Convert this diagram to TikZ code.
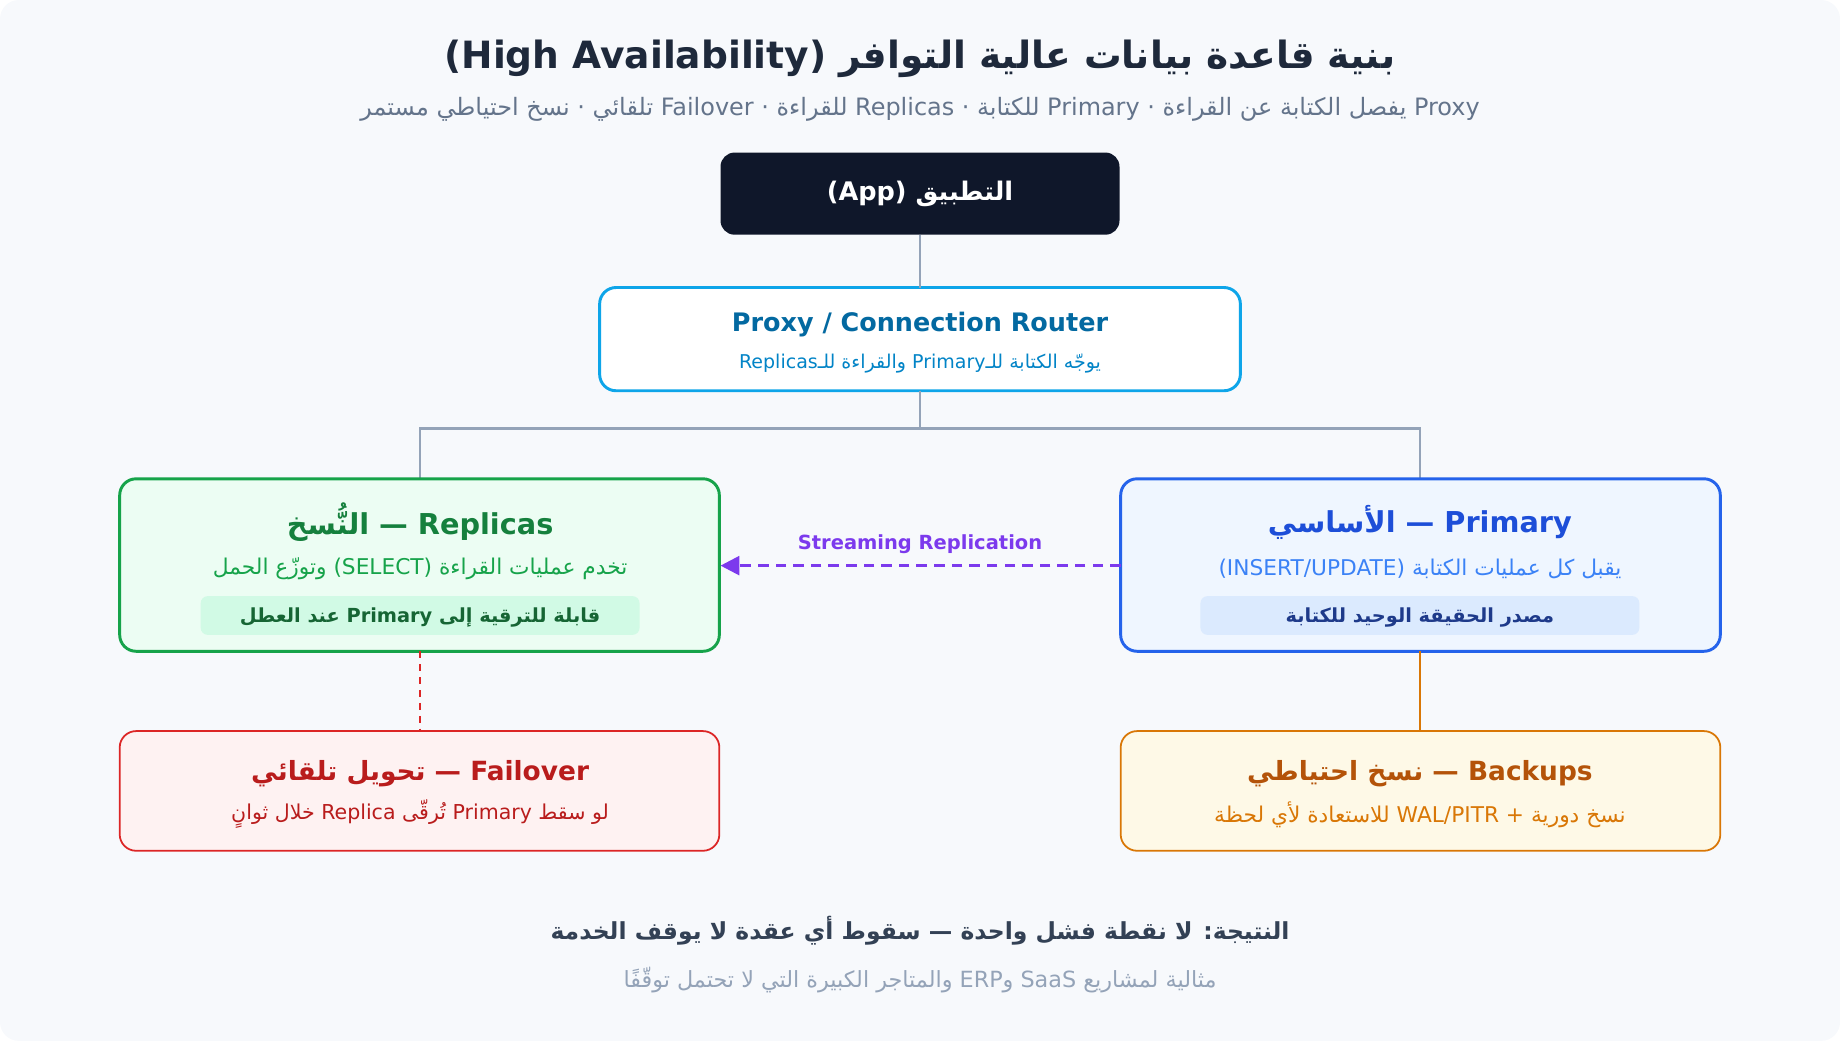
\documentclass[tikz,border=0pt]{standalone}
\usepackage{fontspec}
\setmainfont{DejaVu Sans}
\newfontfamily\arfont[Script=Arabic]{DejaVu Sans}
\TeXXeTstate=1
\newcommand\ar[1]{{\arfont\beginR #1\endR}}
\usetikzlibrary{arrows.meta}
\definecolor{bg}{HTML}{F7F9FC}
\definecolor{ink}{HTML}{1E293B}
\definecolor{sub}{HTML}{64748B}
\definecolor{tree}{HTML}{94A3B8}
\definecolor{appc}{HTML}{0F172A}
\definecolor{pxb}{HTML}{0EA5E9}
\definecolor{pxt}{HTML}{0369A1}
\definecolor{pxs}{HTML}{0284C7}
\definecolor{rpb}{HTML}{16A34A}
\definecolor{rpf}{HTML}{ECFDF3}
\definecolor{rpt}{HTML}{15803D}
\definecolor{rpg}{HTML}{D1FAE5}
\definecolor{rpk}{HTML}{166534}
\definecolor{prb}{HTML}{2563EB}
\definecolor{prf}{HTML}{EFF6FF}
\definecolor{prt}{HTML}{1D4ED8}
\definecolor{prs}{HTML}{3B82F6}
\definecolor{prg}{HTML}{DBEAFE}
\definecolor{prk}{HTML}{1E3A8A}
\definecolor{pur}{HTML}{7C3AED}
\definecolor{fob}{HTML}{DC2626}
\definecolor{fof}{HTML}{FEF2F2}
\definecolor{fot}{HTML}{B91C1C}
\definecolor{bkb}{HTML}{D97706}
\definecolor{bkf}{HTML}{FEF9E7}
\definecolor{bkt}{HTML}{B45309}
\definecolor{res}{HTML}{334155}
\begin{document}
\begin{tikzpicture}[x=1pt,y=-1pt,
  box/.style={draw,line width=2.5pt,rounded corners=14pt},
  ttl/.style={font=\bfseries\fontsize{24.5}{28}\selectfont},
  ttl2/.style={font=\bfseries\fontsize{22.5}{26}\selectfont},
  st/.style={font=\fontsize{18.5}{22}\selectfont},
  badge/.style={inner sep=0pt,font=\bfseries\fontsize{16.5}{19}\selectfont}]
\useasboundingbox (0,0) rectangle (1568,887);
\fill[bg,rounded corners=16pt] (0,0) rectangle (1568,887);
\node[ink,font=\bfseries\fontsize{32}{36}\selectfont] (title) at (784,50) {(High Availability) \ar{بنية قاعدة بيانات عالية التوافر}};
\node[sub,font=\fontsize{20.4}{24}\selectfont] (subt) at (784,93) {\ar{نسخ احتياطي مستمر} · \ar{تلقائي} Failover · \ar{للقراءة} Replicas · \ar{للكتابة} Primary · \ar{يفصل الكتابة عن القراءة} Proxy};
% app
\node[fill=appc,rounded corners=12pt,minimum width=340pt,minimum height=70pt,text=white,font=\bfseries\fontsize{21.8}{26}\selectfont] (app) at (784,165) {(App) \ar{التطبيق}};
% proxy
\draw[box,draw=pxb,fill=white] (511,245) rectangle (1057,333);
\node[font=\bfseries\fontsize{21.7}{25}\selectfont,text=pxt] (pt) at (784,277) {Proxy / Connection Router};
\node[font=\fontsize{16.2}{19}\selectfont,text=pxs] (ps) at (784,310) {Replicas\ar{والقراءة للـ} Primary\ar{يوجّه الكتابة للـ}};
\draw[tree,line width=2pt] (app.south) -- (784,245);
\draw[tree,line width=2pt] (784,333) -- (784,365) coordinate (j) -| (358,408);
\draw[tree,line width=2pt] (j) -| (1210,408);
% replicas
\draw[box,draw=rpb,fill=rpf] (102,408) rectangle (613,555);
\node[ttl,text=rpt] (rt) at (358,445) {\ar{النُّسخ} — Replicas};
\node[st,text=rpb] (rs) at (358,485) {\ar{وتوزّع الحمل} (SELECT) \ar{تخدم عمليات القراءة}};
\fill[rpg,rounded corners=6pt] (171,508) rectangle (545,541);
\node[badge,text=rpk] (rb) at (358,526) {\ar{عند العطل} Primary \ar{قابلة للترقية إلى}};
% primary
\draw[box,draw=prb,fill=prf] (955,408) rectangle (1466,555);
\node[ttl,text=prt] (prt) at (1210,445) {\ar{الأساسي} — Primary};
\node[st,text=prs] (prs) at (1210,485) {(INSERT/UPDATE) \ar{يقبل كل عمليات الكتابة}};
\fill[prg,rounded corners=6pt] (1023,508) rectangle (1397,541);
\node[badge,text=prk] (prb) at (1210,526) {\ar{مصدر الحقيقة الوحيد للكتابة}};
% streaming
\coordinate (sa) at (955,482); \coordinate (sb) at (614,482);
\draw[pur,line width=2.5pt,dash pattern=on 9pt off 6pt,-{Triangle[length=16pt,width=16pt]}] (sa) -- (sb);
\node[text=pur,font=\bfseries\fontsize{16.6}{19}\selectfont] (sl) at (784,464) {Streaming Replication};
% failover
\draw[fob,line width=2pt,dash pattern=on 6pt off 5pt] (358,555) -- (358,623);
\draw[draw=fob,fill=fof,line width=1.5pt,rounded corners=14pt] (102,623) rectangle (613,725);
\node[ttl2,text=fot] (ft) at (358,659) {\ar{تحويل تلقائي} — Failover};
\node[font=\fontsize{17.5}{21}\selectfont,text=fot] (fs) at (358,694) {\ar{خلال ثوانٍ} Replica \ar{تُرقّى} Primary \ar{لو سقط}};
% backups
\draw[bkb,line width=2pt] (1210,555) -- (1210,623);
\draw[draw=bkb,fill=bkf,line width=1.5pt,rounded corners=14pt] (955,623) rectangle (1466,725);
\node[ttl2,text=bkt] (bt) at (1210,659) {\ar{نسخ احتياطي} — Backups};
\node[st,text=bkb] (bs) at (1210,694) {\ar{للاستعادة لأي لحظة} WAL/PITR + \ar{نسخ دورية}};
% bottom
\node[text=res,font=\bfseries\fontsize{20}{24}\selectfont] (r1) at (784,793) {\ar{النتيجة: لا نقطة فشل واحدة — سقوط أي عقدة لا يوقف الخدمة}};
\node[text=tree,font=\fontsize{19}{22}\selectfont] (r2) at (784,835) {\ar{والمتاجر الكبيرة التي لا تحتمل توقّفًا} ERP\ar{و} SaaS \ar{مثالية لمشاريع}};
\end{tikzpicture}
\end{document}
